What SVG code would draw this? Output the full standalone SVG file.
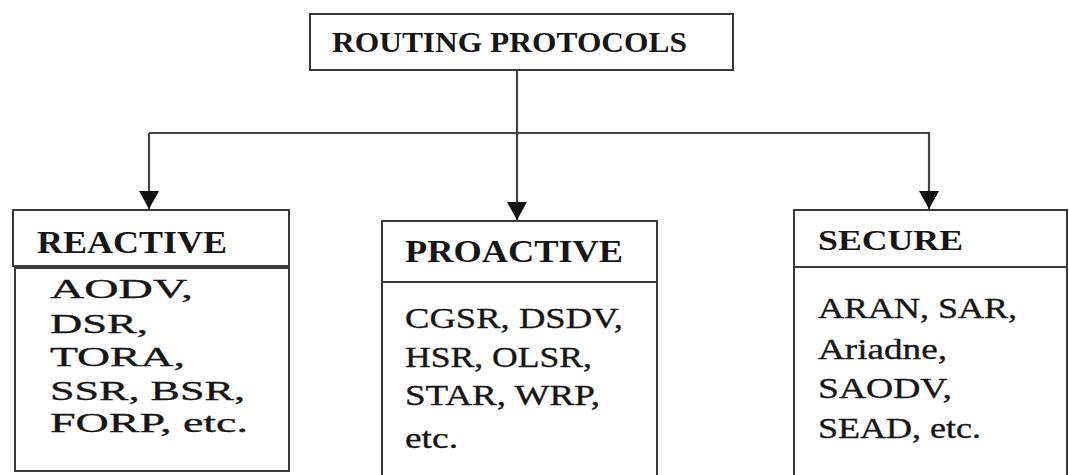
<svg xmlns="http://www.w3.org/2000/svg" width="1069" height="475" viewBox="0 0 1069 475">
  <style>
    .box { fill: #ffffff; stroke: #3a3a3a; stroke-width: 2; }
    .rule { stroke: #3a3a3a; stroke-width: 2; fill: none; }
    .wire { stroke: #444444; stroke-width: 2.2; fill: none; }
    .head { font-family: "Liberation Serif", "Times New Roman", serif; font-weight: bold; fill: #161616; }
    .item { font-family: "Liberation Serif", "Times New Roman", serif; fill: #161616; stroke: #161616; stroke-width: 0.35; }
  </style>
  <defs>
    <marker id="arrow" markerUnits="userSpaceOnUse" markerWidth="22" markerHeight="20" refX="18" refY="10" orient="auto">
      <path d="M0,0 L18,10 L0,20 Z" fill="#111111"/>
    </marker>
  </defs>

  <!-- connectors -->
  <g id="connectors">
    <line class="wire" x1="517" y1="70" x2="517" y2="133"/>
    <line class="wire" x1="149" y1="133" x2="930" y2="133"/>
    <line class="wire" x1="149" y1="133" x2="149" y2="209" marker-end="url(#arrow)"/>
    <line class="wire" x1="517" y1="133" x2="517" y2="220" marker-end="url(#arrow)"/>
    <line class="wire" x1="929" y1="133" x2="929" y2="209" marker-end="url(#arrow)"/>
  </g>

  <!-- root -->
  <g id="routing-protocols">
    <rect class="box" x="310" y="14" width="423" height="56"/>
    <text class="head" x="332" y="52" font-size="30" textLength="355" lengthAdjust="spacingAndGlyphs">ROUTING PROTOCOLS</text>
  </g>

  <!-- reactive -->
  <g id="reactive">
    <rect class="box" x="13" y="210" width="276" height="56"/>
    <rect class="box" x="15" y="268" width="274" height="203" stroke-width="2.6"/>
    <text class="head" x="37" y="253" font-size="32" textLength="190" lengthAdjust="spacingAndGlyphs">REACTIVE</text>
    <text class="item" x="50" y="298" font-size="27" textLength="143" lengthAdjust="spacingAndGlyphs">AODV,</text>
    <text class="item" x="50" y="333" font-size="27" textLength="98" lengthAdjust="spacingAndGlyphs">DSR,</text>
    <text class="item" x="50" y="366" font-size="27" textLength="135" lengthAdjust="spacingAndGlyphs">TORA,</text>
    <text class="item" x="50" y="400" font-size="27" textLength="195" lengthAdjust="spacingAndGlyphs">SSR, BSR,</text>
    <text class="item" x="50" y="432" font-size="27" textLength="198" lengthAdjust="spacingAndGlyphs">FORP, etc.</text>
  </g>

  <!-- proactive -->
  <g id="proactive">
    <rect class="box" x="382" y="221" width="275" height="264"/>
    <line class="rule" x1="382" y1="282" x2="657" y2="282"/>
    <text class="head" x="405" y="262" font-size="32" textLength="218" lengthAdjust="spacingAndGlyphs">PROACTIVE</text>
    <text class="item" x="405" y="328" font-size="30" textLength="218" lengthAdjust="spacingAndGlyphs">CGSR, DSDV,</text>
    <text class="item" x="405" y="367" font-size="30" textLength="187" lengthAdjust="spacingAndGlyphs">HSR, OLSR,</text>
    <text class="item" x="405" y="405" font-size="30" textLength="195" lengthAdjust="spacingAndGlyphs">STAR, WRP,</text>
    <text class="item" x="405" y="448" font-size="30" textLength="53" lengthAdjust="spacingAndGlyphs">etc.</text>
  </g>

  <!-- secure -->
  <g id="secure">
    <rect class="box" x="794" y="210" width="273" height="275"/>
    <line class="rule" x1="794" y1="267" x2="1067" y2="267"/>
    <text class="head" x="818" y="250" font-size="29" textLength="145" lengthAdjust="spacingAndGlyphs">SECURE</text>
    <text class="item" x="818" y="318" font-size="30" textLength="199" lengthAdjust="spacingAndGlyphs">ARAN, SAR,</text>
    <text class="item" x="818" y="359" font-size="30" textLength="129" lengthAdjust="spacingAndGlyphs">Ariadne,</text>
    <text class="item" x="818" y="398" font-size="30" textLength="134" lengthAdjust="spacingAndGlyphs">SAODV,</text>
    <text class="item" x="818" y="438" font-size="30" textLength="163" lengthAdjust="spacingAndGlyphs">SEAD, etc.</text>
  </g>
</svg>
